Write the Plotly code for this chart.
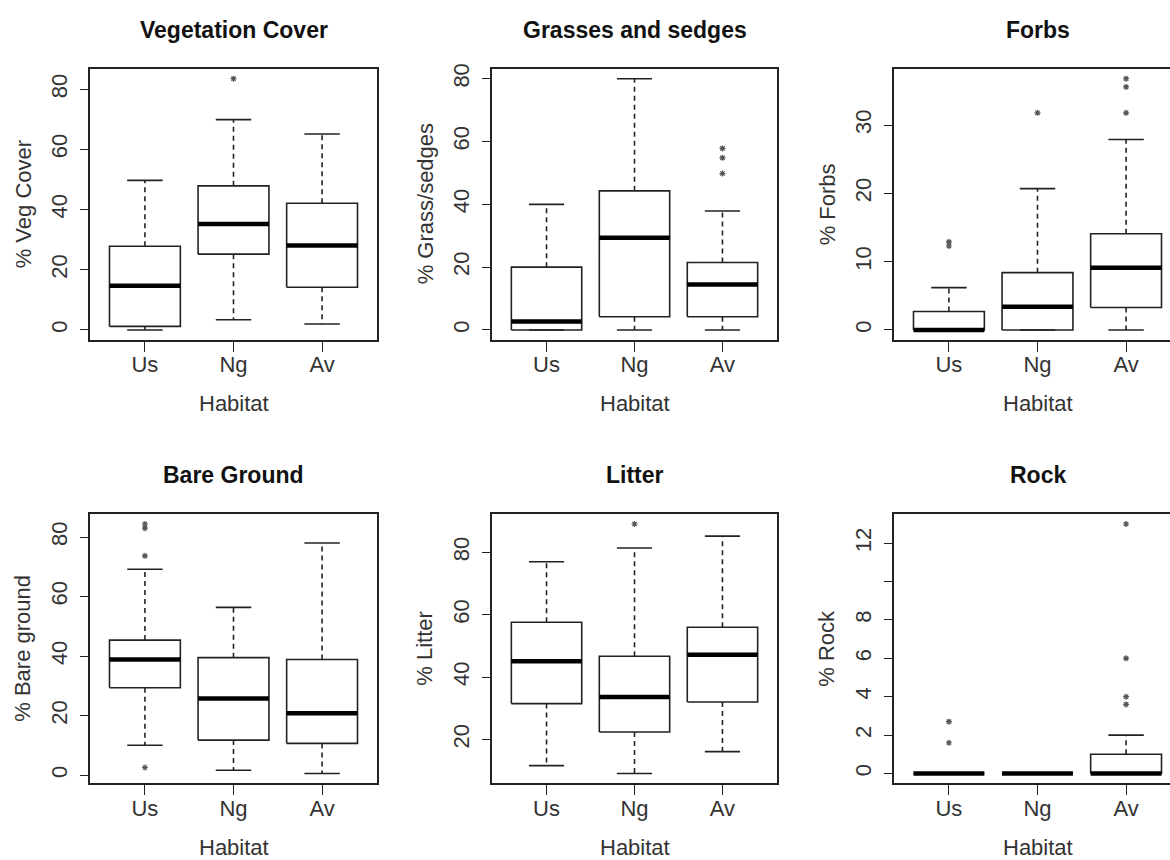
import plotly.graph_objects as go

# Habitat groups on every panel
habitats = ["Us", "Ng", "Av"]

# Five-number summaries per habitat: [lower whisker, Q1, median, Q3, upper whisker]
veg_cover = [[0.0, 1.2, 14.7, 27.8, 49.7],
             [3.4, 25.2, 35.2, 47.9, 69.9],
             [2.0, 14.2, 28.1, 42.1, 65.1]]
veg_cover_out = [[], [83.5], []]

grass_sedges = [[0.0, 0.0, 2.7, 20.0, 40.0],
                [0.0, 4.2, 29.4, 44.3, 80.0],
                [0.0, 4.2, 14.5, 21.5, 37.9]]
grass_sedges_out = [[], [], [49.8, 54.8, 57.8]]

forbs = [[0.0, 0.0, 0.0, 2.7, 6.2],
         [0.0, 0.0, 3.4, 8.4, 20.7],
         [0.0, 3.3, 9.1, 14.1, 27.9]]
forbs_out = [[12.3, 12.9], [31.8], [31.8, 35.6, 36.8]]

bare_ground = [[10.1, 29.4, 38.9, 45.4, 69.2],
               [1.7, 11.8, 25.8, 39.5, 56.4],
               [0.6, 10.7, 20.8, 38.9, 78.0]]
bare_ground_out = [[2.6, 73.7, 83.0, 84.4], [], []]

litter = [[11.6, 31.5, 45.1, 57.6, 77.0],
          [9.1, 22.4, 33.6, 46.7, 81.4],
          [16.1, 32.0, 47.2, 56.0, 85.2]]
litter_out = [[], [89.1], []]

rock = [[0.0, 0.0, 0.0, 0.0, 0.0],
        [0.0, 0.0, 0.0, 0.0, 0.0],
        [0.0, 0.0, 0.0, 1.0, 2.0]]
rock_out = [[1.6, 2.7], [], [3.6, 4.0, 6.0, 13.0]]

# Y-axis ticks for each panel
veg_ticks = [0, 20, 40, 60, 80]
grass_ticks = [0, 20, 40, 60, 80]
forbs_ticks = [0, 10, 20, 30]
bare_ticks = [0, 20, 40, 60, 80]
litter_ticks = [20, 40, 60, 80]
rock_ticks = [0, 2, 4, 6, 8, 10, 12]
rock_tick_text = ["0", "2", "4", "6", "8", "", "12"]

panels = [
    ("Vegetation Cover", "% Veg Cover", veg_cover, veg_cover_out, veg_ticks, None),
    ("Grasses and sedges", "% Grass/sedges", grass_sedges, grass_sedges_out, grass_ticks, None),
    ("Forbs", "% Forbs", forbs, forbs_out, forbs_ticks, None),
    ("Bare Ground", "% Bare ground", bare_ground, bare_ground_out, bare_ticks, None),
    ("Litter", "% Litter", litter, litter_out, litter_ticks, None),
    ("Rock", "% Rock", rock, rock_out, rock_ticks, rock_tick_text),
]

# Page geometry (pixels)
W, H = 1170, 860
col_left = [90, 492, 894]
col_width = [287, 285, 287]
row_top = [64, 512]
row_bottom = [337, 783]

INK = "#222222"
LABEL = "#333333"
FONT = "Liberation Sans, Arial, sans-serif"
BOX_HALF = 0.4
CAP_HALF = 0.2
X_LO, X_HI = 0.38, 3.62

fig = go.Figure()
annotations = []

for k, (title, ylabel, stats, outs, ticks, ticktext) in enumerate(panels):
    r, c = divmod(k, 3)
    n = k + 1
    xa = "x" if n == 1 else f"x{n}"
    ya = "y" if n == 1 else f"y{n}"

    left = col_left[c]
    full_right = left + col_width[c]
    right = min(full_right, W)
    x_hi = X_LO + (X_HI - X_LO) * (right - left) / (full_right - left)

    # y range: data extent widened by 4% on each side
    vals = [v for s in stats for v in s] + [v for o in outs for v in o]
    lo, hi = min(vals), max(vals)
    pad = 0.04 * (hi - lo)

    for i, (s, o) in enumerate(zip(stats, outs)):
        xc = i + 1
        low, q1, med, q3, high = s
        # box outline
        fig.add_trace(go.Scatter(
            x=[xc - BOX_HALF, xc + BOX_HALF, xc + BOX_HALF, xc - BOX_HALF, xc - BOX_HALF],
            y=[q1, q1, q3, q3, q1], mode="lines",
            line=dict(color=INK, width=1.6), xaxis=xa, yaxis=ya,
            showlegend=False, hoverinfo="skip"))
        # dashed whiskers
        fig.add_trace(go.Scatter(
            x=[xc, xc, None, xc, xc], y=[q3, high, None, q1, low], mode="lines",
            line=dict(color=INK, width=1.6, dash="5px,4px"), xaxis=xa, yaxis=ya,
            showlegend=False, hoverinfo="skip"))
        # whisker staples
        fig.add_trace(go.Scatter(
            x=[xc - CAP_HALF, xc + CAP_HALF, None, xc - CAP_HALF, xc + CAP_HALF],
            y=[high, high, None, low, low], mode="lines",
            line=dict(color=INK, width=1.6), xaxis=xa, yaxis=ya,
            showlegend=False, hoverinfo="skip"))
        # median
        fig.add_trace(go.Scatter(
            x=[xc - BOX_HALF, xc + BOX_HALF], y=[med, med], mode="lines",
            line=dict(color="#000000", width=4.5), xaxis=xa, yaxis=ya,
            showlegend=False, hoverinfo="skip"))
        # outliers
        if o:
            fig.add_trace(go.Scatter(
                x=[xc] * len(o), y=o, mode="markers",
                marker=dict(symbol="asterisk-open", size=5, color="#555555",
                            line=dict(color="#555555", width=1.2)),
                xaxis=xa, yaxis=ya, showlegend=False, hoverinfo="skip"))

    x_dom = [left / W, right / W]
    y_dom = [(H - row_bottom[r]) / H, (H - row_top[r]) / H]

    fig.layout[("xaxis" if n == 1 else f"xaxis{n}")] = dict(
        domain=x_dom, anchor=ya, range=[X_LO, x_hi],
        tickmode="array", tickvals=[1, 2, 3], ticktext=habitats,
        ticks="outside", ticklen=10, tickwidth=1.4, tickcolor=INK,
        ticklabelstandoff=-6,
        showline=True, mirror=True, linecolor=INK, linewidth=1.6,
        showgrid=False, zeroline=False, fixedrange=True,
        tickfont=dict(family=FONT, size=22, color=LABEL))
    fig.layout[("yaxis" if n == 1 else f"yaxis{n}")] = dict(
        domain=y_dom, anchor=xa, range=[lo - pad, hi + pad],
        tickmode="array", tickvals=ticks,
        ticktext=ticktext if ticktext else [str(t) for t in ticks],
        tickangle=-90, ticks="outside", ticklen=8, tickwidth=1.4, tickcolor=INK,
        ticklabelstandoff=4,
        showline=True, mirror=(c != 2), linecolor=INK, linewidth=1.6,
        showgrid=False, zeroline=False, fixedrange=True,
        tickfont=dict(family=FONT, size=22, color=LABEL))

    x_center = (left + full_right) / 2 / W
    plot_mid = (H - (row_top[r] + row_bottom[r]) / 2) / H
    annotations.append(dict(
        text=f"<b>{title}</b>", x=x_center, y=(H - row_top[r] + 39) / H,
        xref="paper", yref="paper", showarrow=False, xanchor="center", yanchor="middle",
        font=dict(family=FONT, size=23, color="#111111")))
    annotations.append(dict(
        text="Habitat", x=x_center, y=(H - row_bottom[r] - 64) / H,
        xref="paper", yref="paper", showarrow=False, xanchor="center", yanchor="middle",
        font=dict(family=FONT, size=22, color=LABEL)))
    annotations.append(dict(
        text=ylabel, x=(left - 67) / W, y=plot_mid, textangle=-90,
        xref="paper", yref="paper", showarrow=False, xanchor="center", yanchor="middle",
        font=dict(family=FONT, size=22, color=LABEL)))

fig.update_layout(
    width=W, height=H, margin=dict(l=0, r=0, t=0, b=0),
    paper_bgcolor="white", plot_bgcolor="white",
    annotations=annotations, showlegend=False)

fig.write_html("out.html")
